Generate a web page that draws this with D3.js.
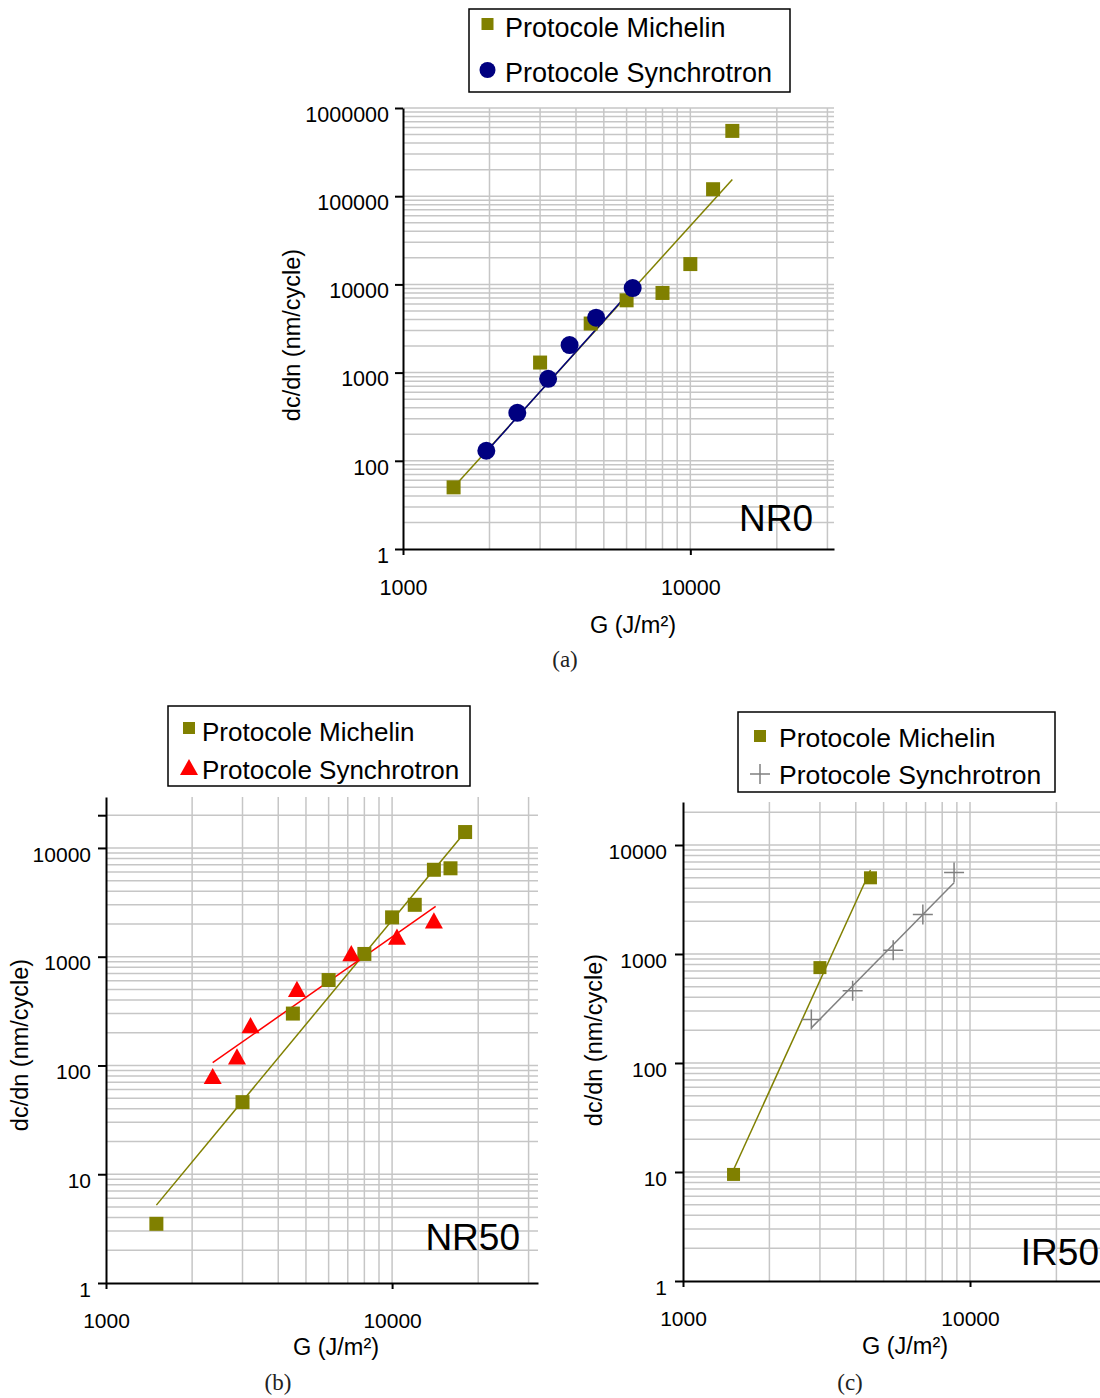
<!DOCTYPE html>
<html><head><meta charset="utf-8">
<script src="https://cdn.jsdelivr.net/npm/d3@7"></script>
<style>body{margin:0;background:#fff}svg{display:block}</style>
</head><body>
<script>
// ---------- DATA ----------
const legendLabels = ["Protocole Michelin", "Protocole Synchrotron"];
const xTitle = "G (J/m²)";
const yTitle = "dc/dn (nm/cycle)";
const xTickValues = [1000, 10000];
const xTickLabels = ["1000", "10000"];

// (a) NR0
const aYTickValues = [10, 100, 1000, 10000, 100000, 1000000];
const aYTickLabels = ["1", "100", "1000", "10000", "100000", "1000000"];
const aMichelinG = [1500, 3000, 4500, 6000, 8000, 10000, 12000, 14000];
const aMichelinRate = [50, 1300, 3600, 6600, 8000, 17000, 120000, 550000];
const aSynchroG = [1950, 2500, 3200, 3800, 4700, 6300];
const aSynchroRate = [130, 350, 850, 2050, 4200, 9100];
const aMichelinFitG = [1500, 14000];
const aMichelinFitRate = [50, 155000];
const aSynchroFitG = [1950, 6300];
const aSynchroFitRate = [127, 9000];

// (b) NR50
const bYTickValues = [1, 10, 100, 1000, 10000, 20000];
const bYTickLabels = ["1", "10", "100", "1000", "10000", ""];
const bMichelinG = [1500, 3000, 4500, 6000, 8000, 10000, 12000, 14000, 16000, 18000];
const bMichelinRate = [3.5, 46, 300, 610, 1060, 2300, 3000, 6300, 6500, 14000];
const bSynchroG = [2360, 2870, 3200, 4650, 7200, 10400, 14000];
const bSynchroRate = [80, 121, 235, 507, 1080, 1530, 2160];
const bMichelinFitG = [1500, 17500];
const bMichelinFitRate = [5.2, 12800];
const bSynchroFitG = [2360, 14200];
const bSynchroFitRate = [106, 2900];

// (c) IR50
const cYTickValues = [1, 10, 100, 1000, 10000];
const cYTickLabels = ["1", "10", "100", "1000", "10000"];
const cMichelinG = [1500, 3000, 4500];
const cMichelinRate = [9.5, 750, 5000];
const cSynchroG = [2800, 3900, 5400, 6850, 8800];
const cSynchroRate = [250, 460, 1080, 2300, 5600];
const cMichelinFitG = [1500, 4500];
const cMichelinFitRate = [10.5, 5900];
const cSynchroFitG = [2800, 8800];
const cSynchroFitRate = [210, 4500];

// ---------- DRAWING ----------
const OLIVE = "#808000", NAVY = "#000080", RED = "#ff0000", GRAY = "#808080", GRID = "#c6c6c6";
const FONT = "'Liberation Sans', Arial, sans-serif";

const svg = d3.select("body").append("svg")
  .attr("width", 1100).attr("height", 1398)
  .style("font-family", FONT);

function zip(a, b) { return a.map((v, i) => [v, b[i]]); }

function drawMarker(sel, type, color, s) {
  if (type === "square") {
    sel.append("rect").attr("x", -s / 2).attr("y", -s / 2).attr("width", s).attr("height", s).attr("fill", color);
  } else if (type === "circle") {
    sel.append("circle").attr("r", s / 2).attr("fill", color);
  } else if (type === "triangle") {
    const h = s * 0.9;
    sel.append("path").attr("d", `M0,${-h / 2}L${s / 2},${h / 2}L${-s / 2},${h / 2}Z`).attr("fill", color);
  } else if (type === "cross") {
    sel.append("path").attr("d", `M${-s / 2},0H${s / 2}M0,${-s / 2}V${s / 2}`)
      .attr("stroke", color).attr("stroke-width", 1.5).attr("fill", "none");
  }
}

function panel(cfg) {
  const x = d3.scaleLog().domain(cfg.xDomain).range(cfg.xRange);
  const y = d3.scaleLog().domain(cfg.yDomain).range(cfg.yRange);
  const g = svg.append("g");

  // grid
  const xg = x.ticks().filter(v => v > cfg.xDomain[0] * 1.001);
  g.append("g").selectAll("line").data(xg).join("line")
    .attr("x1", d => x(d)).attr("x2", d => x(d))
    .attr("y1", cfg.yRange[0]).attr("y2", cfg.yRange[1])
    .attr("stroke", GRID).attr("stroke-width", 1.5);
  const yg = y.ticks().filter(v => v > cfg.yDomain[0] * 1.001);
  g.append("g").selectAll("line").data(yg).join("line")
    .attr("x1", cfg.xRange[0]).attr("x2", cfg.xRange[1])
    .attr("y1", d => y(d)).attr("y2", d => y(d))
    .attr("stroke", GRID).attr("stroke-width", 1.5);

  // axes
  const yAxis = d3.axisLeft(y).tickValues(cfg.yTickValues)
    .tickFormat((d, i) => cfg.yTickLabels[i]).tickSize(8).tickSizeOuter(0).tickPadding(cfg.yPad);
  const ya = g.append("g").attr("transform", `translate(${cfg.xRange[0]},0)`).call(yAxis);
  const xAxis = d3.axisBottom(x).tickValues(xTickValues)
    .tickFormat((d, i) => xTickLabels[i]).tickSize(6).tickSizeOuter(0).tickPadding(cfg.xPad);
  const xa = g.append("g").attr("transform", `translate(0,${cfg.yRange[0]})`).call(xAxis);
  [ya, xa].forEach(a => {
    a.select(".domain").attr("stroke", "#000").attr("stroke-width", 2);
    a.selectAll(".tick line").attr("stroke", "#000").attr("stroke-width", 2);
    a.selectAll("text").attr("font-family", FONT).attr("font-size", cfg.tickFont).attr("fill", "#000");
  });
  ya.selectAll("text").attr("dy", (0.32 * cfg.tickFont + 6.5) + "px");

  // fit lines
  const line = d3.line().x(d => x(d[0])).y(d => y(d[1]));
  cfg.series.forEach(s => {
    g.append("path").datum(zip(s.fitG, s.fitRate)).attr("d", line)
      .attr("stroke", s.color).attr("stroke-width", 1.5).attr("fill", "none");
  });
  // markers
  cfg.series.forEach(s => {
    g.append("g").selectAll("g").data(zip(s.G, s.rate)).join("g")
      .attr("transform", d => `translate(${x(d[0])},${y(d[1])})`)
      .each(function () { drawMarker(d3.select(this), s.type, s.color, s.size); });
  });

  // titles
  g.append("text").attr("x", cfg.xTitlePos[0]).attr("y", cfg.xTitlePos[1])
    .attr("text-anchor", "middle").attr("font-size", cfg.titleFont).text(xTitle);
  g.append("text").attr("transform", `translate(${cfg.yTitlePos[0]},${cfg.yTitlePos[1]}) rotate(-90)`)
    .attr("text-anchor", "middle").attr("dy", "0.35em").attr("font-size", cfg.titleFont).text(yTitle);
  g.append("text").attr("x", cfg.namePos[0]).attr("y", cfg.namePos[1])
    .attr("text-anchor", "end").attr("font-size", 37).text(cfg.name);
  g.append("text").attr("x", cfg.capPos[0]).attr("y", cfg.capPos[1])
    .attr("text-anchor", "middle").attr("font-family", "'Liberation Serif', 'DejaVu Serif', serif")
    .attr("font-size", 23).attr("fill", "#222").text(cfg.caption);

  // legend
  const L = cfg.legend;
  g.append("rect").attr("x", L.box[0]).attr("y", L.box[1]).attr("width", L.box[2]).attr("height", L.box[3])
    .attr("fill", "#fff").attr("stroke", "#000").attr("stroke-width", 1.5);
  cfg.series.forEach((s, i) => {
    const mg = g.append("g").attr("transform", `translate(${L.markerX},${L.markerY[i]})`);
    drawMarker(mg, s.type, s.color, s.legendSize);
    g.append("text").attr("x", L.textX).attr("y", L.textY[i]).attr("font-size", L.font).text(legendLabels[i]);
  });
}

panel({
  xDomain: [1000, 31623], xRange: [403, 834],
  yDomain: [10, 1000000], yRange: [549, 108],
  yTickValues: aYTickValues, yTickLabels: aYTickLabels,
  yPad: 6, xPad: 25, tickFont: 21.5, titleFont: 23.5,
  xTitlePos: [633, 633], yTitlePos: [292, 335],
  name: "NR0", namePos: [813, 531],
  caption: "(a)", capPos: [565, 667],
  series: [
    { G: aMichelinG, rate: aMichelinRate, fitG: aMichelinFitG, fitRate: aMichelinFitRate, color: OLIVE, type: "square", size: 14, legendSize: 12 },
    { G: aSynchroG, rate: aSynchroRate, fitG: aSynchroFitG, fitRate: aSynchroFitRate, color: NAVY, type: "circle", size: 18, legendSize: 16 }
  ],
  legend: { box: [469, 9, 321, 83], markerX: 487.5, markerY: [24, 70], textX: 505, textY: [36.5, 82], font: 27 }
});

panel({
  xDomain: [1000, 32360], xRange: [106, 538],
  yDomain: [1, 29400], yRange: [1283, 797],
  yTickValues: bYTickValues, yTickLabels: bYTickLabels,
  yPad: 7, xPad: 24, tickFont: 21, titleFont: 23.5,
  xTitlePos: [336, 1355], yTitlePos: [20, 1045],
  name: "NR50", namePos: [520, 1250],
  caption: "(b)", capPos: [278, 1390],
  series: [
    { G: bMichelinG, rate: bMichelinRate, fitG: bMichelinFitG, fitRate: bMichelinFitRate, color: OLIVE, type: "square", size: 14, legendSize: 12 },
    { G: bSynchroG, rate: bSynchroRate, fitG: bSynchroFitG, fitRate: bSynchroFitRate, color: RED, type: "triangle", size: 18, legendSize: 18 }
  ],
  legend: { box: [168, 706, 302, 80], markerX: 189, markerY: [728, 767], textX: 202, textY: [741, 779], font: 26 }
});

panel({
  xDomain: [1000, 31623], xRange: [683, 1113.5],
  yDomain: [1, 24800], yRange: [1281, 802],
  yTickValues: cYTickValues, yTickLabels: cYTickLabels,
  yPad: 8, xPad: 24, tickFont: 21, titleFont: 23.5,
  xTitlePos: [905, 1354], yTitlePos: [594, 1040],
  name: "IR50", namePos: [1099, 1265],
  caption: "(c)", capPos: [850, 1390],
  series: [
    { G: cMichelinG, rate: cMichelinRate, fitG: cMichelinFitG, fitRate: cMichelinFitRate, color: OLIVE, type: "square", size: 13, legendSize: 12 },
    { G: cSynchroG, rate: cSynchroRate, fitG: cSynchroFitG, fitRate: cSynchroFitRate, color: GRAY, type: "cross", size: 20, legendSize: 20 }
  ],
  legend: { box: [738, 712, 317, 80], markerX: 760, markerY: [736, 774], textX: 779, textY: [747, 784], font: 26.5 }
});
</script>
</body></html>
